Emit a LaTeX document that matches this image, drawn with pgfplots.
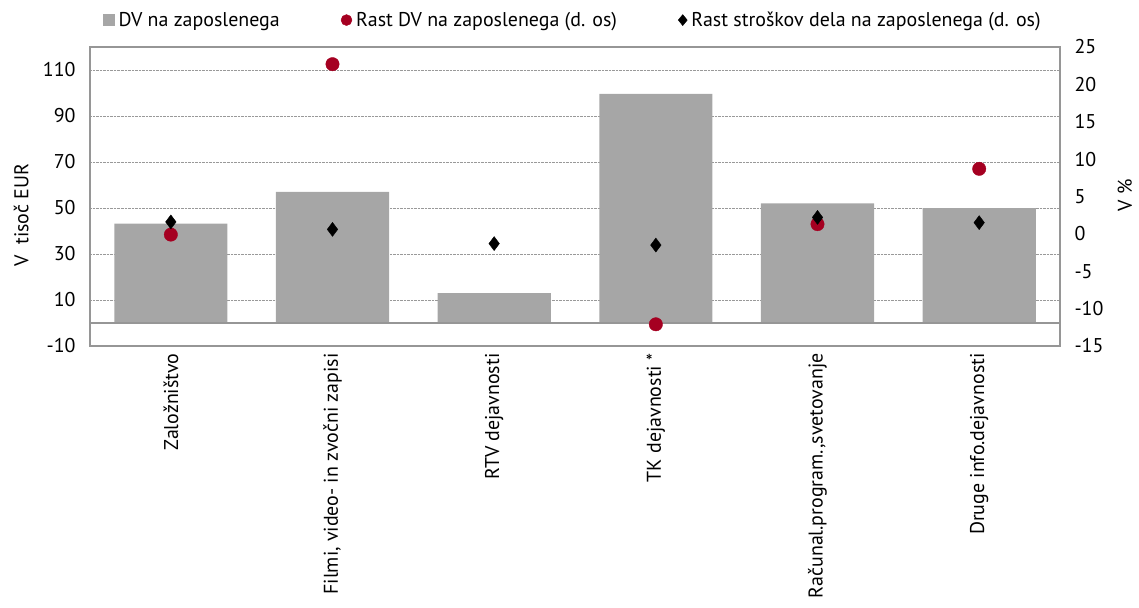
\documentclass[border=0pt]{standalone}
\usepackage{pgfplots}
\pgfplotsset{compat=1.18}
\usepackage{fontspec}
\setmainfont{PT Sans}
\definecolor{bargray}{HTML}{A6A6A6}
\definecolor{dotred}{HTML}{A50021}
\definecolor{framegray}{HTML}{969696}
\begin{document}
\begin{tikzpicture}[x=1bp,y=1bp]
\useasboundingbox (0,0) rectangle (1139,608);
\pgfplotsset{
  every axis/.append style={
    scale only axis, width=970bp, height=299bp,
    at={(90bp,262bp)}, anchor=south west,
    xmin=-0.5, xmax=5.5,
    major tick length=0pt,
    tick label style={font=\fontsize{20}{22}\selectfont},
    label style={font=\fontsize{20}{22}\selectfont},
    /pgf/number format/assume math mode=true,
    axis line style={framegray, line width=1.2pt},
  }
}
\begin{axis}[
  ymin=-10, ymax=120, ytick={-10,10,30,50,70,90,110},
  xtick={0,1,2,3,4,5},
  xticklabels={Založništvo,{Filmi, video- in zvočni zapisi},RTV dejavnosti,TK dejavnosti *,{Računal.program.,svetovanje},Druge info.dejavnosti},
  x tick label style={yshift=-4bp, rotate=90, anchor=east},
  ymajorgrids, grid style={densely dotted, gray!80, line width=0.6pt},
  yticklabel style={xshift=-11bp},
  ylabel={V\ \ tisoč EUR},
  ylabel style={at={(axis description cs:-0.071,0.438)}, anchor=center, rotate=0},
]
\addplot[ybar, bar width=0.7, fill=bargray, draw=none] coordinates {
(0,43.2) (1,57) (2,13) (3,99.6) (4,52) (5,49.9)};
\addplot[framegray, line width=1.2pt] coordinates {(-0.5,0) (5.5,0)};
\end{axis}
\begin{axis}[
  ymin=-15, ymax=25, ytick={-15,-10,...,25},
  axis y line*=right, axis x line=none,
  yticklabel style={xshift=11bp},
  ylabel={V \%},
  ylabel style={at={(axis description cs:1.067,0.505)}, anchor=center},
  legend style={at={(axis description cs:0.0134,1.09)}, anchor=west, draw=none, fill=none,
    font=\fontsize{20}{22}\selectfont, legend columns=3,
    nodes={inner sep=0pt},
    /tikz/every odd column/.append style={column sep=4bp},
    /tikz/every even column/.append style={column sep=61bp},
    inner sep=0pt, legend cell align=left},
]
\addlegendimage{legend image code/.code={\fill[bargray] (0bp,-5.5bp) rectangle (11bp,5.5bp);}}
\addlegendentry{DV na zaposlenega}
\addplot[only marks, mark=*, mark size=6.7bp, dotred, mark options={fill=dotred, draw=dotred},
  legend image code/.code={\fill[dotred] (5.5bp,0) circle (5.5bp);}] coordinates {
(0,-0.1) (1,22.7) (3,-12.1) (4,1.3) (5,8.7)};
\addlegendentry{Rast DV na zaposlenega (d. os)}
\addplot[only marks, mark=diamond*, mark size=7bp, black, mark options={fill=black},
  legend image code/.code={\fill[black] (4.5bp,-5.5bp) -- (9bp,0) -- (4.5bp,5.5bp) -- (0bp,0) -- cycle;}] coordinates {
(0,1.6) (1,0.6) (2,-1.3) (3,-1.5) (4,2.2) (5,1.5)};
\addlegendentry{Rast stroškov dela na zaposlenega (d. os)}
\end{axis}
\end{tikzpicture}
\end{document}
